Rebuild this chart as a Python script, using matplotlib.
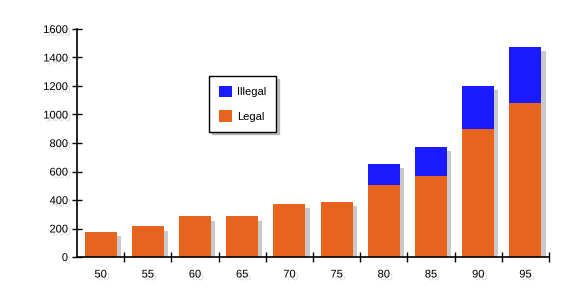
import numpy as np
import matplotlib.pyplot as plt
import matplotlib.patheffects as pe
from matplotlib.patches import Patch

plt.rcParams['font.family'] = ['Liberation Sans', 'DejaVu Sans']

# data
years = ['50', '55', '60', '65', '70', '75', '80', '85', '90', '95']
legal = [175, 215, 285, 285, 372, 386, 505, 571, 899, 1083]
illegal = [0, 0, 0, 0, 0, 0, 148, 201, 301, 393]

orange = '#E8641E'
blue = '#1A1AFF'

shadow = [pe.SimplePatchShadow(offset=(3, -3), shadow_rgbFace='#888888', alpha=0.45), pe.Normal()]
tshadow = [pe.SimplePatchShadow(offset=(2, -2), shadow_rgbFace='#999999', alpha=0.35), pe.Normal()]

fig = plt.figure(figsize=(5.75, 2.96), dpi=100)
ax = fig.add_axes([77/575, 39/296, 472/575, 228/296])

x = np.arange(len(years))
b1 = ax.bar(x, legal, width=0.68, color=orange, zorder=2)
b2 = ax.bar(x, illegal, width=0.68, bottom=legal, color=blue, zorder=2)
# shadows behind whole stack
for xi, l, i in zip(x, legal, illegal):
    r = ax.bar(xi, l + i, width=0.68, color='none', zorder=1)[0]
    r.set_path_effects([pe.SimplePatchShadow(offset=(3, -3), shadow_rgbFace='#888888', alpha=0.45)])
    r.set_facecolor('white')

ax.set_xlim(-0.5, len(years) - 0.5)
ax.set_ylim(0, 1600)
ax.set_yticks(np.arange(0, 1601, 200))
ax.set_xticks(x)
ax.set_xticklabels(years)
ax.set_xticks(np.arange(0.5, len(years), 1.0), minor=True)

for s in ['top', 'right']:
    ax.spines[s].set_visible(False)
ax.spines['left'].set_linewidth(1.2)
ax.spines['bottom'].set_linewidth(1.2)

ax.tick_params(axis='x', which='major', length=0, labelsize=8, pad=9)
ax.tick_params(axis='x', which='minor', direction='inout', length=7, width=1)
ax.tick_params(axis='y', direction='inout', length=7, width=1, labelsize=8, pad=3)

for t in ax.get_xticklabels() + ax.get_yticklabels():
    t.set_path_effects(tshadow)

handles = [Patch(facecolor=blue, edgecolor='none'), Patch(facecolor=orange, edgecolor='none')]
leg = ax.legend(handles, ['Illegal', 'Legal'], loc='upper left',
                bbox_to_anchor=(209/575, 1 - 76/296), bbox_transform=fig.transFigure,
                fontsize=8, handlelength=1.2, handleheight=1.2, labelspacing=1.15,
                handletextpad=0.4, borderpad=0.9, borderaxespad=0,
                fancybox=False, shadow={'color': '#999999', 'alpha': 0.6}, frameon=True)
leg.get_frame().set_edgecolor('black')
leg.get_frame().set_linewidth(1.0)
leg.set_zorder(5)

fig.savefig('out.png', dpi=100)
